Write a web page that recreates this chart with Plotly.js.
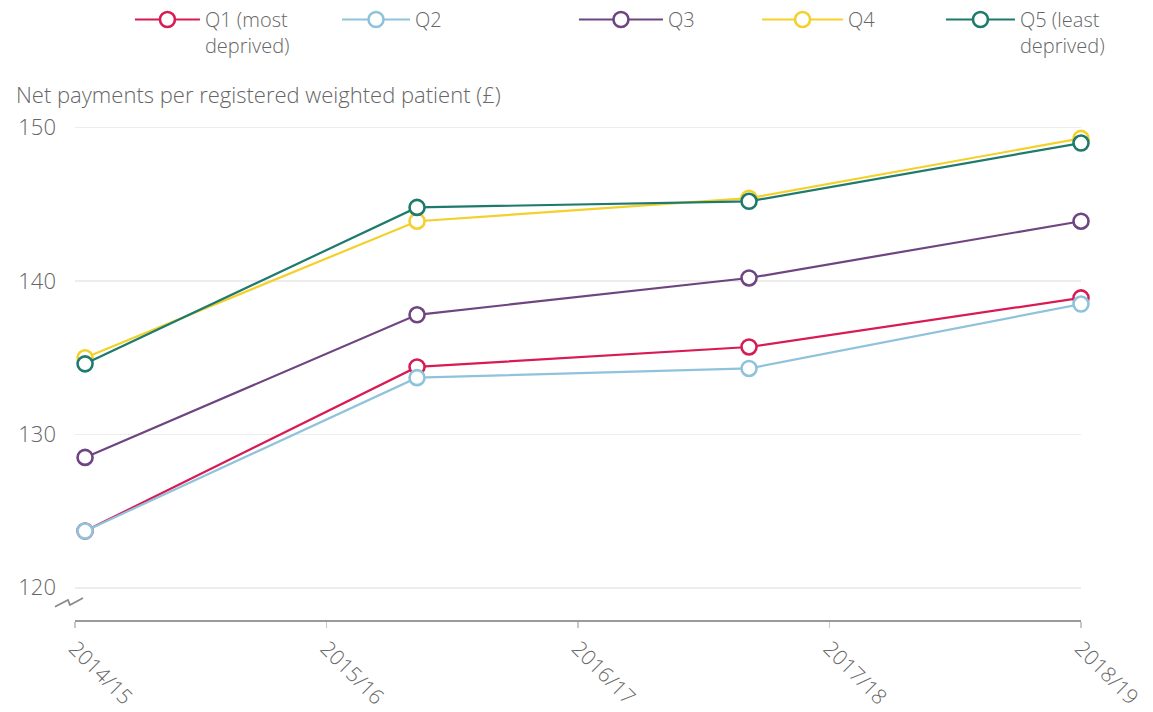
<!DOCTYPE html>
<html>
<head>
<meta charset="utf-8">
<script src="https://cdn.plot.ly/plotly-3.0.1.min.js"></script>
<style>html,body{margin:0;padding:0;background:#fff;}#chart{width:1153px;height:712px;}</style>
</head>
<body>
<div id="chart"></div>
<script>
// ---- Data ----
const yearLabels = ["2014/15", "2015/16", "2016/17", "2017/18", "2018/19"];
const tickPositions = [0, 1, 2, 3, 4];
const pointPositions = [0.04, 1.36, 2.68, 4.0];
const seriesNames = ["Q1 (most<br>deprived)", "Q2", "Q3", "Q4", "Q5 (least<br>deprived)"];
const q1 = [123.7, 134.4, 135.7, 138.9];
const q2 = [123.7, 133.7, 134.3, 138.5];
const q3 = [128.5, 137.8, 140.2, 143.9];
const q4 = [135.0, 143.9, 145.4, 149.3];
const q5 = [134.6, 144.8, 145.2, 149.0];
const yTicks = [120, 130, 140, 150];
const yTitle = "Net payments per registered weighted patient (£)";

const seriesValues = [q1, q2, q3, q4, q5];
const colors = ["#d81b55", "#8fc3dc", "#6e4580", "#f3d12a", "#1d7a6c"];
const legendX = [0.1127, 0.2923, 0.4978, 0.6566, 0.8161];
const legendItemWidth = [65, 68, 84, 81, 69];
const legendIds = ["legend", "legend2", "legend3", "legend4", "legend5"];

const FONT = "Open Sans, Liberation Sans, sans-serif";
const GREY = "#666666";
const FS = 22;

const data = seriesValues.map((vals, i) => ({
  type: "scatter",
  mode: "lines+markers",
  x: pointPositions,
  y: vals,
  name: seriesNames[i],
  legend: legendIds[i],
  line: {color: colors[i], width: 2.2},
  marker: {symbol: "circle", size: 15, color: "#ffffff", line: {width: 2.6, color: colors[i]}},
  cliponaxis: false,
  hoverinfo: "x+y"
}));

const layout = {
  width: 1153, height: 712,
  margin: {l: 75, r: 72, t: 120, b: 92},
  paper_bgcolor: "#fff", plot_bgcolor: "#fff",
  font: {family: FONT, size: FS, color: GREY, weight: 300},
  showlegend: true,
  xaxis: {
    range: [0, 4],
    tickmode: "array", tickvals: tickPositions, ticktext: yearLabels,
    tickangle: 45,
    showgrid: false, zeroline: false,
    showline: true, linecolor: "#9a9a9a", linewidth: 2,
    ticks: "outside", ticklen: 6, tickcolor: "#c8c8c8", tickwidth: 1.5,
    tickfont: {family: FONT, size: 21, color: GREY, weight: 300},
    fixedrange: true
  },
  yaxis: {
    range: [117.9, 150.5],
    tickmode: "array", tickvals: yTicks,
    showgrid: true, gridcolor: "#ededed", gridwidth: 1.5,
    zeroline: false, showline: false,
    ticks: "", ticklabelstandoff: 18,
    tickfont: {family: FONT, size: FS, color: GREY, weight: 300},
    fixedrange: true
  },
  annotations: [
    {xref: "paper", yref: "paper", x: -0.0606, y: 1.0, yshift: 26, xanchor: "left", yanchor: "middle",
     text: yTitle, showarrow: false, font: {family: FONT, size: FS, color: GREY, weight: 300}}
  ],
  shapes: [
    {type: "path", xref: "paper", yref: "paper",
     path: "M-0.0199,0.0266 L-0.0070,0.040 L-0.0050,0.030 L0.0080,0.044",
     line: {color: "#8a8a8a", width: 1.8}}
  ]
};
legendIds.forEach((id, i) => {
  layout[id] = {
    xref: "container", yref: "container",
    x: legendX[i], xanchor: "left", y: 1.0, yanchor: "top",
    orientation: "h", itemwidth: legendItemWidth[i], valign: "top", bgcolor: "rgba(0,0,0,0)",
    font: {family: FONT, size: 20, color: GREY, weight: 300},
    itemclick: false, itemdoubleclick: false
  };
});

Plotly.newPlot("chart", data, layout, {displayModeBar: false, staticPlot: true});
</script>
</body>
</html>
